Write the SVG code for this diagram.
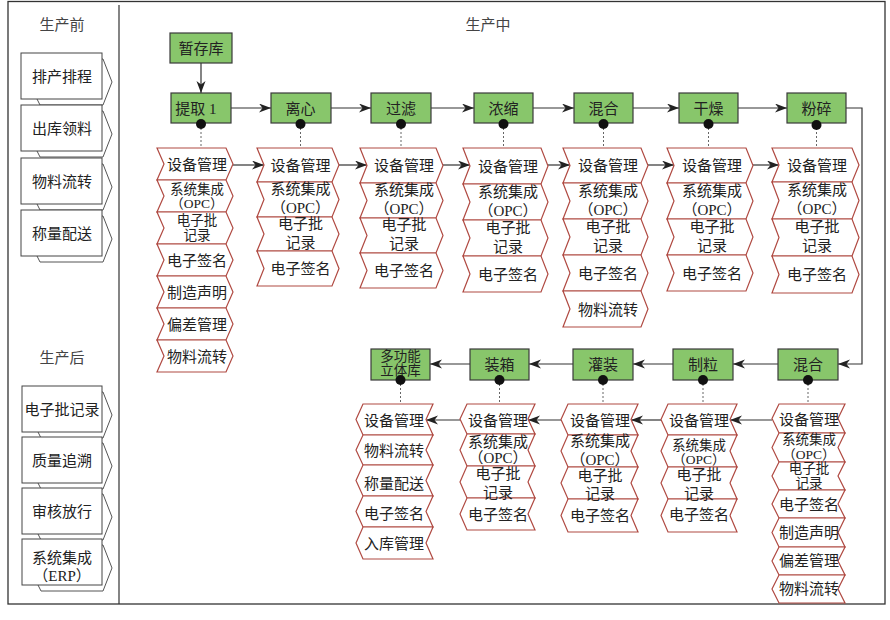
<svg xmlns="http://www.w3.org/2000/svg" width="890" height="620" viewBox="0 0 890 620">
<style>
text{font-family:"Liberation Serif","Noto Sans CJK SC",serif;font-size:15px;fill:#222;text-anchor:middle}
text.sm{font-size:13.5px}
.hd{fill:#444}
.frame{fill:none;stroke:#333;stroke-width:1.3}
.lrect{fill:#fff;stroke:#444;stroke-width:1}
.lback{fill:#fff;stroke:#555;stroke-width:1}
.box{fill:#88c66b;stroke:#3a3a3a;stroke-width:1.2}
.chev{fill:#fff;stroke:#b04a42;stroke-width:1.2}
.dot{fill:#111}
.dash{stroke:#666;stroke-width:1;stroke-dasharray:2 2;fill:none}
.arr{fill:none;stroke:#333;stroke-width:1.2;marker-end:url(#ah)}
</style>
<defs>
<marker id="ah" markerUnits="userSpaceOnUse" markerWidth="13" markerHeight="10" refX="12" refY="4.5" orient="auto">
<path d="M0,0 L12,4.5 L0,9 L3.5,4.5 z" fill="#222"/>
</marker>
</defs>
<rect x="0" y="0" width="890" height="620" fill="#fff"/>
<rect class="frame" x="8" y="1.5" width="877" height="602.5"/>
<line x1="119" y1="5" x2="119" y2="604" stroke="#333" stroke-width="1.2"/>
<text class="hd" x="62" y="30">生产前</text>
<text class="hd" x="488" y="30">生产中</text>
<text class="hd" x="62" y="363">生产后</text>

<g id="pre-1"><polygon class="lback" points="37,59 103,59 112,82 103,105 40,105 36,97"/><rect class="lrect" x="21" y="53" width="81" height="46"/><text x="62" y="81.5">排产排程</text></g>
<g id="pre-2"><polygon class="lback" points="37,111 103,111 112,134 103,157 40,157 36,149"/><rect class="lrect" x="21" y="105" width="81" height="46"/><text x="62" y="133.5">出库领料</text></g>
<g id="pre-3"><polygon class="lback" points="37,164 103,164 112,187 103,210 40,210 36,202"/><rect class="lrect" x="21" y="158" width="81" height="46"/><text x="62" y="186.5">物料流转</text></g>
<g id="pre-4"><polygon class="lback" points="37,216 103,216 112,239 103,262 40,262 36,254"/><rect class="lrect" x="21" y="210" width="81" height="46"/><text x="62" y="238.5">称量配送</text></g>

<g id="post-1"><polygon class="lback" points="38,392 103,392 112,415 103,438 41,438 37,430"/><rect class="lrect" x="22" y="386" width="80" height="46"/><text x="62" y="414.5">电子批记录</text></g>
<g id="post-2"><polygon class="lback" points="38,443 103,443 112,466 103,489 41,489 37,481"/><rect class="lrect" x="22" y="437" width="80" height="46"/><text x="62" y="465.5">质量追溯</text></g>
<g id="post-3"><polygon class="lback" points="38,494 103,494 112,517 103,540 41,540 37,532"/><rect class="lrect" x="22" y="488" width="80" height="46"/><text x="62" y="516.5">审核放行</text></g>
<g id="post-4"><polygon class="lback" points="38,545 103,545 112,568 103,591 41,591 37,583"/><rect class="lrect" x="22" y="539" width="80" height="46"/><text x="62" y="563">系统集成</text><text x="62" y="580.5">（ERP）</text></g>

<g id="connectors">
<path class="arr" d="M201,63 V93"/>
<path class="arr" d="M231,108 H271"/>
<path class="arr" d="M331,108 H371"/>
<path class="arr" d="M431,108 H474"/>
<path class="arr" d="M533,108 H574"/>
<path class="arr" d="M633,108 H679"/>
<path class="arr" d="M738,108 H787"/>
<path class="arr" d="M846,108 H862 V364 H838"/>
<path class="arr" d="M778,364 H733"/>
<path class="arr" d="M673,364 H633"/>
<path class="arr" d="M573,364 H529"/>
<path class="arr" d="M470,364 H430"/>
<path class="arr" d="M233,165 H264"/>
<path class="arr" d="M339,165 H367"/>
<path class="arr" d="M443,165 H470"/>
<path class="arr" d="M548,165 H570"/>
<path class="arr" d="M648,165 H674"/>
<path class="arr" d="M753,165 H779"/>
<path class="arr" d="M772,420 H730"/>
<path class="arr" d="M661,420 H631"/>
<path class="arr" d="M561,420 H528"/>
<path class="arr" d="M460,420 H426"/>
<path class="dash" d="M201,128 V148 M300.5,128 V148 M401,128 V148 M503.5,128 V148 M603.5,128 V148 M708.5,128 V148 M816.5,128 V148"/>
<path class="dash" d="M400.5,384 V404 M499.5,384 V404 M603,384 V404 M703,384 V404 M808,384 V404"/>
</g>

<g id="zancunku"><rect class="box" x="170" y="33" width="62" height="30"/><text x="201" y="53.5">暂存库</text></g>
<g id="tiqu"><rect class="box" x="171" y="93" width="60" height="30"/><text x="196" y="113.5">提取 1</text><circle class="dot" cx="201" cy="124" r="5"/></g>
<g id="lixin"><rect class="box" x="271" y="93" width="60" height="30"/><text x="300.5" y="113.5">离心</text><circle class="dot" cx="300.5" cy="124" r="5"/></g>
<g id="guolv"><rect class="box" x="371" y="93" width="60" height="30"/><text x="401" y="113.5">过滤</text><circle class="dot" cx="401" cy="124" r="5"/></g>
<g id="nongsuo"><rect class="box" x="474" y="93" width="59" height="30"/><text x="503.5" y="113.5">浓缩</text><circle class="dot" cx="503.5" cy="124" r="5"/></g>
<g id="hunhe1"><rect class="box" x="574" y="93" width="59" height="30"/><text x="603.5" y="113.5">混合</text><circle class="dot" cx="603.5" cy="124" r="5"/></g>
<g id="ganzao"><rect class="box" x="679" y="93" width="59" height="30"/><text x="708.5" y="113.5">干燥</text><circle class="dot" cx="708.5" cy="124" r="5"/></g>
<g id="fensui"><rect class="box" x="787" y="93" width="59" height="30"/><text x="816.5" y="113.5">粉碎</text><circle class="dot" cx="816.5" cy="125" r="5"/></g>
<g id="hunhe2"><rect class="box" x="778" y="349" width="60" height="31"/><text x="808" y="370">混合</text><circle class="dot" cx="808" cy="380" r="5"/></g>
<g id="zhili"><rect class="box" x="673" y="349" width="60" height="31"/><text x="703" y="370">制粒</text><circle class="dot" cx="703" cy="380" r="5"/></g>
<g id="guanzhuang"><rect class="box" x="573" y="349" width="60" height="31"/><text x="603" y="370">灌装</text><circle class="dot" cx="603" cy="380" r="5"/></g>
<g id="zhuangxiang"><rect class="box" x="470" y="349" width="59" height="31"/><text x="499.5" y="370">装箱</text><circle class="dot" cx="499.5" cy="380" r="5"/></g>
<g id="litiku"><rect class="box" x="371" y="349" width="59" height="31"/><text class="sm" x="400.5" y="361">多功能</text><text class="sm" x="400.5" y="375">立体库</text><circle class="dot" cx="400.5" cy="380" r="5"/></g>

<g id="col-tiqu">
<polygon class="chev" points="157,148 226,148 233,164 226,180 157,180 164,164"/>
<polygon class="chev" points="157,180 226,180 233,196 226,212 157,212 164,196"/>
<polygon class="chev" points="157,212 226,212 233,228 226,244 157,244 164,228"/>
<polygon class="chev" points="157,244 226,244 233,260 226,276 157,276 164,260"/>
<polygon class="chev" points="157,276 226,276 233,292 226,308 157,308 164,292"/>
<polygon class="chev" points="157,308 226,308 233,324 226,340 157,340 164,324"/>
<polygon class="chev" points="157,340 226,340 233,356 226,372 157,372 164,356"/>
<text x="197" y="169.5">设备管理</text>
<text class="sm" x="197" y="193.5">系统集成</text><text class="sm" x="197" y="208">（OPC）</text>
<text class="sm" x="197" y="225">电子批</text><text class="sm" x="197" y="239.5">记录</text>
<text x="197" y="265.5">电子签名</text>
<text x="197" y="297.5">制造声明</text>
<text x="197" y="329.5">偏差管理</text>
<text x="197" y="361.5">物料流转</text>
</g>

<g id="col-lixin">
<polygon class="chev" points="257,148 332,148 339,165 332,182 257,182 264,165"/>
<polygon class="chev" points="257,182 332,182 339,199.5 332,217 257,217 264,199.5"/>
<polygon class="chev" points="257,217 332,217 339,234 332,251 257,251 264,234"/>
<polygon class="chev" points="257,251 332,251 339,268.5 332,286 257,286 264,268.5"/>
<text x="300.5" y="170.5">设备管理</text>
<text x="300.5" y="194">系统集成</text><text x="300.5" y="213">（OPC）</text>
<text x="300.5" y="228.5">电子批</text><text x="300.5" y="247.5">记录</text>
<text x="300.5" y="274">电子签名</text>
</g>

<g id="col-guolv">
<polygon class="chev" points="360,148 436,148 443,165.5 436,183 360,183 367,165.5"/>
<polygon class="chev" points="360,183 436,183 443,200.5 436,218 360,218 367,200.5"/>
<polygon class="chev" points="360,218 436,218 443,235.5 436,253 360,253 367,235.5"/>
<polygon class="chev" points="360,253 436,253 443,270.5 436,288 360,288 367,270.5"/>
<text x="404" y="171">设备管理</text>
<text x="404" y="195">系统集成</text><text x="404" y="214">（OPC）</text>
<text x="404" y="230">电子批</text><text x="404" y="249">记录</text>
<text x="404" y="276">电子签名</text>
</g>

<g id="col-nongsuo">
<polygon class="chev" points="463,148 541,148 548,166 541,184 463,184 470,166"/>
<polygon class="chev" points="463,184 541,184 548,202 541,220 463,220 470,202"/>
<polygon class="chev" points="463,220 541,220 548,238 541,256 463,256 470,238"/>
<polygon class="chev" points="463,256 541,256 548,274 541,292 463,292 470,274"/>
<text x="508" y="171.5">设备管理</text>
<text x="508" y="196.5">系统集成</text><text x="508" y="215.5">（OPC）</text>
<text x="508" y="232.5">电子批</text><text x="508" y="251.5">记录</text>
<text x="508" y="279.5">电子签名</text>
</g>

<g id="col-hunhe1">
<polygon class="chev" points="563,148 641,148 648,165.5 641,183 563,183 570,165.5"/>
<polygon class="chev" points="563,183 641,183 648,201 641,219 563,219 570,201"/>
<polygon class="chev" points="563,219 641,219 648,237 641,255 563,255 570,237"/>
<polygon class="chev" points="563,255 641,255 648,273 641,291 563,291 570,273"/>
<polygon class="chev" points="563,291 641,291 648,309 641,327 563,327 570,309"/>
<text x="608" y="171">设备管理</text>
<text x="608" y="195.5">系统集成</text><text x="608" y="214.5">（OPC）</text>
<text x="608" y="231.5">电子批</text><text x="608" y="250.5">记录</text>
<text x="608" y="278.5">电子签名</text>
<text x="608" y="314.5">物料流转</text>
</g>

<g id="col-ganzao">
<polygon class="chev" points="667,148 746,148 753,165.5 746,183 667,183 674,165.5"/>
<polygon class="chev" points="667,183 746,183 753,201 746,219 667,219 674,201"/>
<polygon class="chev" points="667,219 746,219 753,237 746,255 667,255 674,237"/>
<polygon class="chev" points="667,255 746,255 753,273 746,291 667,291 674,273"/>
<text x="712" y="171">设备管理</text>
<text x="712" y="195.5">系统集成</text><text x="712" y="214.5">（OPC）</text>
<text x="712" y="231.5">电子批</text><text x="712" y="250.5">记录</text>
<text x="712" y="278.5">电子签名</text>
</g>

<g id="col-fensui">
<polygon class="chev" points="772,148 852,148 859,165 852,182 772,182 779,165"/>
<polygon class="chev" points="772,182 852,182 859,200.5 852,219 772,219 779,200.5"/>
<polygon class="chev" points="772,219 852,219 859,237.5 852,256 772,256 779,237.5"/>
<polygon class="chev" points="772,256 852,256 859,274.5 852,293 772,293 779,274.5"/>
<text x="817" y="170.5">设备管理</text>
<text x="817" y="195">系统集成</text><text x="817" y="214">（OPC）</text>
<text x="817" y="232">电子批</text><text x="817" y="251">记录</text>
<text x="817" y="280">电子签名</text>
</g>

<g id="col-hunhe2">
<polygon class="chev" points="779,404 845,404 838,418.5 845,433 779,433 772,418.5"/>
<polygon class="chev" points="779,433 845,433 838,447.5 845,462 779,462 772,447.5"/>
<polygon class="chev" points="779,462 845,462 838,476 845,490 779,490 772,476"/>
<polygon class="chev" points="779,490 845,490 838,504 845,518 779,518 772,504"/>
<polygon class="chev" points="779,518 845,518 838,532.5 845,547 779,547 772,532.5"/>
<polygon class="chev" points="779,547 845,547 838,561 845,575 779,575 772,561"/>
<polygon class="chev" points="779,575 845,575 838,589 845,603 779,603 772,589"/>
<text x="809" y="425">设备管理</text>
<text class="sm" x="809" y="444">系统集成</text><text class="sm" x="809" y="458.5">（OPC）</text>
<text class="sm" x="809" y="473">电子批</text><text class="sm" x="809" y="487.5">记录</text>
<text x="809" y="509.5">电子签名</text>
<text x="809" y="537.5">制造声明</text>
<text x="809" y="565.5">偏差管理</text>
<text x="809" y="593.5">物料流转</text>
</g>

<g id="col-zhili">
<polygon class="chev" points="668,404 737,404 730,419.5 737,435 668,435 661,419.5"/>
<polygon class="chev" points="668,435 737,435 730,451 737,467 668,467 661,451"/>
<polygon class="chev" points="668,467 737,467 730,483 737,499 668,499 661,483"/>
<polygon class="chev" points="668,499 737,499 730,515.5 737,532 668,532 661,515.5"/>
<text x="699" y="425.5">设备管理</text>
<text class="sm" x="699" y="449.5">系统集成</text><text class="sm" x="699" y="464">（OPC）</text>
<text x="699" y="479.5">电子批</text><text x="699" y="498.5">记录</text>
<text x="699" y="519.5">电子签名</text>
</g>

<g id="col-guanzhuang">
<polygon class="chev" points="568,404 638,404 631,419.5 638,435 568,435 561,419.5"/>
<polygon class="chev" points="568,435 638,435 631,451 638,467 568,467 561,451"/>
<polygon class="chev" points="568,467 638,467 631,483 638,499 568,499 561,483"/>
<polygon class="chev" points="568,499 638,499 631,515.5 638,532 568,532 561,515.5"/>
<text x="600" y="425.5">设备管理</text>
<text x="600" y="445.5">系统集成</text><text x="600" y="464.5">（OPC）</text>
<text x="600" y="480.5">电子批</text><text x="600" y="498.5">记录</text>
<text x="600" y="520.5">电子签名</text>
</g>

<g id="col-zhuangxiang">
<polygon class="chev" points="467,404 535,404 528,419 535,434 467,434 460,419"/>
<polygon class="chev" points="467,434 535,434 528,450 535,466 467,466 460,450"/>
<polygon class="chev" points="467,466 535,466 528,482 535,498 467,498 460,482"/>
<polygon class="chev" points="467,498 535,498 528,514 535,530 467,530 460,514"/>
<text x="498" y="425.5">设备管理</text>
<text x="498" y="446.5">系统集成</text><text x="498" y="462.5">（OPC）</text>
<text x="498" y="478.5">电子批</text><text x="498" y="497.5">记录</text>
<text x="498" y="519.5">电子签名</text>
</g>

<g id="col-litiku">
<polygon class="chev" points="363,404 433,404 426,419.5 433,435 363,435 356,419.5"/>
<polygon class="chev" points="363,435 433,435 426,450 433,465 363,465 356,450"/>
<polygon class="chev" points="363,465 433,465 426,480.5 433,496 363,496 356,480.5"/>
<polygon class="chev" points="363,496 433,496 426,511.5 433,527 363,527 356,511.5"/>
<polygon class="chev" points="363,527 433,527 426,543 433,559 363,559 356,543"/>
<text x="394" y="425.5">设备管理</text>
<text x="394" y="455.5">物料流转</text>
<text x="394" y="488.5">称量配送</text>
<text x="394" y="518.5">电子签名</text>
<text x="394" y="548.5">入库管理</text>
</g>
</svg>
